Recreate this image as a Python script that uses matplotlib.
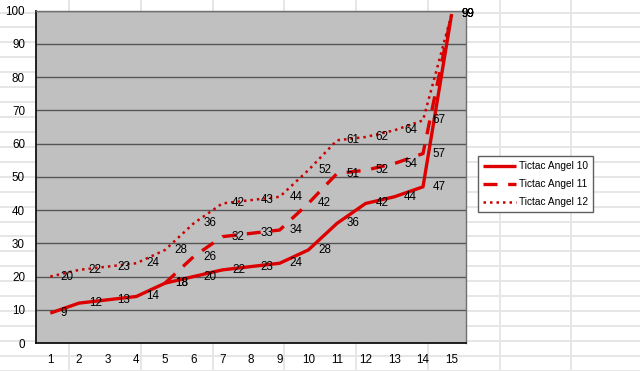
import numpy as np
import matplotlib.pyplot as plt

plt.rcParams['font.family'] = ['Liberation Sans', 'DejaVu Sans']

# Data
categories = list(range(1, 16))
angel10 = [9, 12, 13, 14, 18, 20, 22, 23, 24, 28, 36, 42, 44, 47, 99]
angel11_x = list(range(5, 16))
angel11 = [18, 26, 32, 33, 34, 42, 51, 52, 54, 57, 99]
angel12 = [20, 22, 23, 24, 28, 36, 42, 43, 44, 52, 61, 62, 64, 67, 99]
series_names = ['Tictac Angel 10', 'Tictac Angel 11', 'Tictac Angel 12']

red = '#DD0000'
W, H = 640, 371

fig = plt.figure(figsize=(W / 100, H / 100), dpi=100)
fig.patch.set_facecolor('white')

# Spreadsheet cell grid behind the chart
bg = fig.add_axes([0, 0, 1, 1], zorder=0)
bg.set_xlim(0, W)
bg.set_ylim(H, 0)
bg.axis('off')
for x in np.arange(69.3, W, 71.7):
    bg.axvline(x, color='#E6E6E6', lw=1.4)
for y in np.arange(12.5, H + 1, 14.93):
    bg.axhline(y, color='#E6E6E6', lw=1.4)

# Chart plot area
left, right, top, bottom = 36, 466, 10.7, 343
ax = fig.add_axes([left / W, 1 - bottom / H, (right - left) / W, (bottom - top) / H], zorder=2)
ax.set_facecolor('#C0C0C0')

l1, = ax.plot(categories, angel10, color=red, lw=2.4, solid_capstyle='butt', zorder=4)
l2, = ax.plot(angel11_x, angel11, color=red, lw=2.4, dashes=(4.2, 3.2), zorder=4)
l3, = ax.plot(categories, angel12, color='#CC0000', lw=1.8, dashes=(1, 1.6), zorder=4)

for xs, ys in [(categories, angel10), (angel11_x, angel11), (categories, angel12)]:
    for x, y in zip(xs, ys):
        ax.annotate(str(y), (x, y), xytext=(7, 0), textcoords='offset points',
                    ha='left', va='center', fontsize=8.4, color='black', zorder=5,
                    annotation_clip=False)

ax.set_xlim(0.5, 15.5)
ax.set_ylim(0, 100)
ax.set_xticks(categories)
ax.set_yticks(range(0, 101, 10))
ax.tick_params(axis='both', length=0, labelsize=8.4)
ax.tick_params(axis='x', pad=8)
ax.tick_params(axis='y', pad=8)
ax.yaxis.grid(True, color='#555555', lw=1.0)
ax.set_axisbelow(True)
for s in ['left', 'bottom']:
    ax.spines[s].set_color('#111111')
    ax.spines[s].set_linewidth(1.3)
for s in ['top', 'right']:
    ax.spines[s].set_color('#707070')
    ax.spines[s].set_linewidth(1.0)

leg = ax.legend([l1, l2, l3], series_names, loc='center left',
                bbox_to_anchor=(478 / W, 1 - 184.2 / H), bbox_transform=fig.transFigure,
                borderaxespad=0, fontsize=7.3, fancybox=False, framealpha=1,
                edgecolor='#606060', handlelength=3.2, handletextpad=0.3,
                labelspacing=0.8, borderpad=0.5)
leg.get_frame().set_linewidth(1.0)

fig.savefig('out.png', dpi=100)
